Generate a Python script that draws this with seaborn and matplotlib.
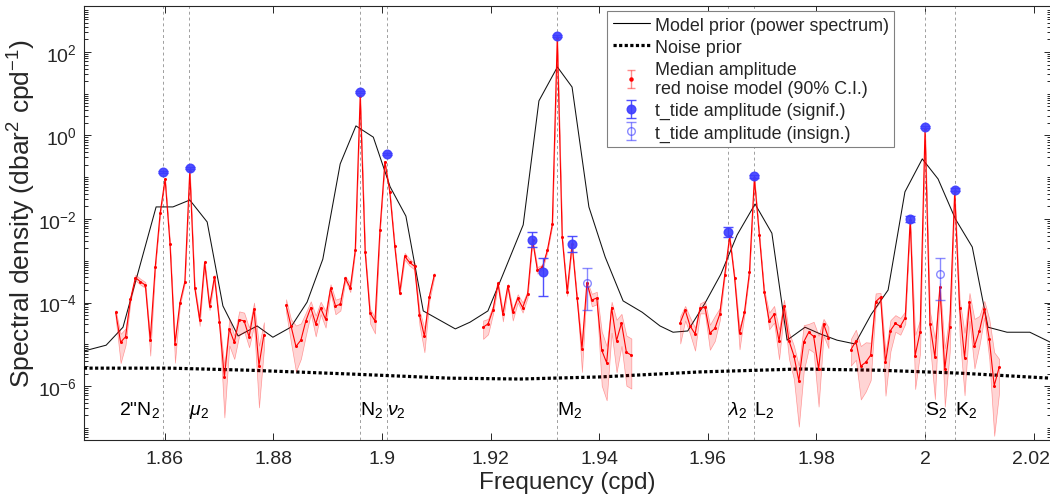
import numpy as np
import pandas as pd
import matplotlib
matplotlib.use("Agg")
import matplotlib.pyplot as plt
import matplotlib.ticker as mticker
import matplotlib.transforms as mtransforms
from matplotlib.lines import Line2D
import seaborn as sns

# ------------------------------------------------------------------ data
# Model prior (power spectrum): frequency (cpd) and log10 spectral density
model_freq = [1.8451, 1.8492, 1.8523, 1.8584, 1.8615, 1.8646, 1.8678, 1.8707, 1.8735,
              1.8770, 1.8799, 1.8832, 1.8862, 1.8891, 1.8923, 1.8952, 1.8984, 1.9015,
              1.9044, 1.9076, 1.9135, 1.9162, 1.9195, 1.9223, 1.9260, 1.9289, 1.9323,
              1.9350, 1.9381, 1.9411, 1.9444, 1.9479, 1.9512, 1.9536, 1.9563, 1.9595,
              1.9624, 1.9654, 1.9687, 1.9718, 1.9746, 1.9779, 1.9807, 1.9838, 1.9871,
              1.9901, 1.9932, 1.9963, 1.9995, 2.0024, 2.0056, 2.0087, 2.0116, 2.0151,
              2.0193, 2.0231]
model_log10 = [-5.16, -5.02, -4.59, -1.71, -1.71, -1.545, -2.07, -4.08, -4.80,
               -4.56, -4.83, -4.59, -3.99, -2.96, -0.68, 0.23, -0.04, -1.23,
               -1.93, -4.20, -4.63, -4.47, -4.20, -3.32, -2.14, 0.83, 1.64,
               1.16, -1.71, -2.91, -3.96, -4.23, -4.56, -4.71, -4.68, -4.01,
               -3.32, -2.38, -1.64, -2.34, -4.90, -4.59, -4.75, -4.90, -4.99,
               -4.28, -3.70, -1.35, -0.56, -1.04, -2.00, -2.67, -4.59, -4.71,
               -4.71, -4.95]

# Noise prior
noise_freq = [1.8451, 1.8610, 1.8757, 1.8941, 1.9125, 1.9254, 1.9402, 1.9586,
              1.9770, 1.9917, 2.0065, 2.0231]
noise_log10 = [-5.57, -5.57, -5.62, -5.71, -5.81, -5.83, -5.78, -5.66,
               -5.59, -5.62, -5.69, -5.81]

# Median amplitude of red-noise model (five frequency bands), log10 values,
# with 90% C.I. given as decades below / above the median
s1_freq = [1.85095, 1.85186, 1.85277, 1.85368, 1.85459, 1.85550, 1.85641, 1.85732,
           1.85823, 1.85914, 1.86005, 1.86096, 1.86187, 1.86278, 1.86369, 1.86460,
           1.86551, 1.86642, 1.86733, 1.86824, 1.86915, 1.87006, 1.87097, 1.87188,
           1.87279, 1.87370, 1.87461, 1.87552, 1.87643, 1.87734, 1.87825]
s1_med = [-4.23, -4.95, -4.82, -3.92, -3.40, -3.50, -3.58, -4.89, -3.16, -1.86, -1.04,
          -2.60, -4.99, -4.01, -3.50, -0.84, -3.64, -4.41, -3.04, -4.08, -3.38, -4.47,
          -5.79, -4.63, -4.95, -4.41, -4.44, -4.82, -4.16, -5.51, -4.77]
s1_up = [0.05, 0.20, 0.20, 0.05, 0.07, 0.07, 0.07, 0.05, 0.03, 0.03, 0.03, 0.03, 0.10,
         0.04, 0.04, 0.05, 0.05, 0.08, 0.05, 0.06, 0.05, 0.05, 0.28, 0.24, 0.16, 0.20,
         0.20, 0.22, 0.16, 0.48, 0.30]
s1_dn = [0.15, 0.50, 0.20, 0.05, 0.07, 0.07, 0.07, 0.38, 0.03, 0.03, 0.03, 0.03, 0.45,
         0.06, 0.04, 0.05, 0.05, 0.15, 0.05, 0.10, 0.05, 0.10, 0.96, 0.40, 0.40, 0.38,
         0.25, 0.25, 0.40, 1.00, 0.35]

s2_freq = [1.88233, 1.88324, 1.88415, 1.88506, 1.88597, 1.88688, 1.88779, 1.88870,
           1.88961, 1.89052, 1.89143, 1.89234, 1.89325, 1.89416, 1.89507, 1.89598,
           1.89689, 1.89780, 1.89871, 1.89962, 1.90053, 1.90144, 1.90235, 1.90326,
           1.90417, 1.90508, 1.90599, 1.90690, 1.90781, 1.90872, 1.90963]
s2_med = [-4.06, -4.56, -5.05, -4.90, -4.44, -4.12, -4.51, -4.13, -4.40, -3.66, -4.08,
          -4.04, -3.42, -3.65, -2.75, 0.95, -2.78, -4.25, -4.44, -2.26, -0.63, -1.36,
          -2.65, -3.76, -2.89, -3.04, -3.13, -4.29, -4.81, -3.86, -3.34]
s2_up = [0.14, 0.16, 0.50, 0.40, 0.20, 0.15, 0.20, 0.15, 0.20, 0.10, 0.15, 0.15, 0.05,
         0.10, 0.03, 0.02, 0.03, 0.10, 0.08, 0.03, 0.02, 0.03, 0.05, 0.05, 0.08, 0.08,
         0.08, 0.10, 0.20, 0.10, 0.05]
s2_dn = [0.17, 0.40, 0.60, 0.45, 0.35, 0.15, 0.30, 0.15, 0.20, 0.10, 0.20, 0.15, 0.05,
         0.10, 0.03, 0.02, 0.03, 0.25, 0.30, 0.03, 0.02, 0.03, 0.05, 0.05, 0.08, 0.08,
         0.08, 0.25, 0.38, 0.10, 0.05]

s3_freq = [1.91862, 1.91953, 1.92044, 1.92135, 1.92226, 1.92317, 1.92408, 1.92499,
           1.92590, 1.92681, 1.92772, 1.92863, 1.92954, 1.93045, 1.93136, 1.93227,
           1.93318, 1.93409, 1.93500, 1.93591, 1.93682, 1.93773, 1.93864, 1.93955,
           1.94046, 1.94137, 1.94228, 1.94319, 1.94410, 1.94501, 1.94592]
s3_med = [-4.59, -4.51, -4.17, -3.54, -4.28, -3.60, -4.23, -3.90, -4.12, -3.80, -2.50,
          -3.23, -3.15, -2.75, -2.13, 2.33, -2.44, -3.74, -2.60, -3.88, -5.11, -3.53,
          -3.94, -3.89, -5.14, -5.44, -4.12, -4.91, -4.49, -5.19, -5.26]
s3_up = [0.16, 0.12, 0.10, 0.05, 0.08, 0.05, 0.08, 0.10, 0.12, 0.08, 0.03, 0.08, 0.06,
         0.04, 0.03, 0.02, 0.03, 0.05, 0.03, 0.05, 0.10, 0.05, 0.15, 0.15, 0.45, 0.40,
         0.14, 0.50, 0.22, 0.40, 0.40]
s3_dn = [0.28, 0.25, 0.10, 0.05, 0.17, 0.05, 0.20, 0.10, 0.12, 0.08, 0.03, 0.08, 0.06,
         0.04, 0.03, 0.02, 0.03, 0.10, 0.03, 0.05, 0.55, 0.05, 0.15, 0.15, 0.85, 0.90,
         0.60, 0.76, 0.55, 0.80, 0.80]

s4_freq = [1.95492, 1.95583, 1.95674, 1.95765, 1.95856, 1.95947, 1.96038, 1.96129,
           1.96220, 1.96311, 1.96402, 1.96493, 1.96584, 1.96675, 1.96766, 1.96857,
           1.96948, 1.97039, 1.97130, 1.97221, 1.97312, 1.97403, 1.97494, 1.97585,
           1.97676, 1.97767, 1.97858, 1.97949, 1.98040, 1.98131, 1.98222]
s4_med = [-4.48, -4.18, -4.56, -4.75, -4.14, -4.11, -4.73, -4.62, -4.28, -3.34, -2.41,
          -3.41, -4.74, -4.23, -3.28, -1.02, -2.38, -3.74, -4.44, -4.28, -4.92, -4.08,
          -4.91, -5.27, -5.87, -4.94, -4.71, -4.81, -5.59, -4.51, -4.84]
s4_up = [0.16, 0.10, 0.20, 0.15, 0.12, 0.15, 0.20, 0.30, 0.15, 0.05, 0.03, 0.05, 0.15,
         0.05, 0.05, 0.02, 0.03, 0.05, 0.20, 0.20, 0.28, 0.15, 0.20, 0.24, 0.36, 0.40,
         0.20, 0.35, 0.80, 0.12, 0.25]
s4_dn = [0.50, 0.25, 0.20, 0.40, 0.12, 0.15, 0.40, 0.30, 0.15, 0.05, 0.03, 0.05, 0.38,
         0.05, 0.05, 0.02, 0.03, 0.05, 0.20, 0.20, 0.44, 0.15, 0.44, 0.56, 1.10, 0.70,
         0.40, 0.38, 0.90, 0.28, 0.25]

s5_freq = [1.98635, 1.98726, 1.98817, 1.98908, 1.98999, 1.99090, 1.99181, 1.99272,
           1.99363, 1.99454, 1.99545, 1.99636, 1.99727, 1.99818, 1.99909, 2.00000,
           2.00091, 2.00182, 2.00273, 2.00364, 2.00455, 2.00546, 2.00637, 2.00728,
           2.00819, 2.00910, 2.01001, 2.01092, 2.01183, 2.01274, 2.01365]
s5_med = [-5.13, -4.92, -5.52, -5.43, -5.26, -3.98, -3.87, -5.43, -4.67, -4.50, -4.57,
          -4.36, -2.02, -5.27, -4.71, 0.16, -4.52, -5.31, -3.63, -5.59, -4.59, -1.34,
          -4.12, -5.32, -3.99, -5.05, -4.68, -4.16, -4.87, -5.99, -5.55]
s5_up = [0.26, 0.27, 0.48, 0.48, 0.30, 0.20, 0.10, 0.25, 0.25, 0.20, 0.20, 0.15, 0.03,
         0.50, 0.30, 0.02, 0.30, 0.45, 0.10, 0.50, 0.35, 0.03, 0.20, 0.60, 0.22, 0.66,
         0.36, 0.20, 0.48, 0.80, 0.20]
s5_dn = [0.38, 0.45, 0.80, 0.70, 0.60, 0.15, 0.10, 0.80, 0.50, 0.20, 0.20, 0.15, 0.03,
         0.80, 0.50, 0.02, 0.50, 1.00, 0.10, 0.90, 0.60, 0.03, 0.67, 0.90, 0.45, 0.53,
         0.36, 0.20, 0.48, 1.20, 0.60]

# t_tide amplitudes (log10) with error bars (decades)
sig_freq = [1.85969, 1.86455, 1.89598, 1.90084, 1.92758, 1.92961, 1.93227, 1.93506,
            1.96371, 1.96857, 1.99726, 2.00000, 2.00548]
sig_log10 = [-0.87, -0.78, 1.04, -0.44, -2.50, -3.28, 2.38, -2.60, -2.32, -0.98,
             -2.00, 0.20, -1.30]
sig_up = [0.03, 0.03, 0.02, 0.03, 0.18, 0.34, 0.02, 0.20, 0.12, 0.04, 0.07, 0.02, 0.04]
sig_dn = [0.03, 0.03, 0.02, 0.03, 0.18, 0.56, 0.02, 0.20, 0.12, 0.04, 0.07, 0.02, 0.04]

ins_freq = [1.93771, 2.00274]
ins_log10 = [-3.53, -3.32]
ins_up = [0.36, 0.38]
ins_dn = [0.65, 0.62]

# tidal constituents
const_names = ['2"N$_2$', r'$\mu_2$', 'N$_2$', r'$\nu_2$', 'M$_2$',
               r'$\lambda_2$', 'L$_2$', 'S$_2$', 'K$_2$']
const_freq = [1.859690, 1.864547, 1.895982, 1.900839, 1.932274,
              1.963708, 1.968565, 2.000000, 2.005479]

x_ticks = [1.86, 1.88, 1.90, 1.92, 1.94, 1.96, 1.98, 2.00, 2.02]
y_ticks = [1e-6, 1e-4, 1e-2, 1e0, 1e2]

# ------------------------------------------------------------------ style
sns.set_theme(style="ticks")
plt.rcParams["font.family"] = ["Liberation Sans", "DejaVu Sans"]
plt.rcParams["mathtext.fontset"] = "custom"
plt.rcParams["mathtext.rm"] = "Liberation Sans"
plt.rcParams["mathtext.it"] = "Liberation Sans:italic"
plt.rcParams["mathtext.bf"] = "Liberation Sans:bold"
plt.rcParams["mathtext.sf"] = "Liberation Sans"
plt.rcParams["axes.unicode_minus"] = True

fig = plt.figure(figsize=(10.5, 5.02), dpi=100)
ax = fig.add_axes([84 / 1050, 61 / 502, 967 / 1050, 434 / 502])
ax.set_facecolor("white")

# constituent markers
for f in const_freq:
    ax.axvline(f, color="0.62", lw=0.7, ls=(0, (3, 3)), zorder=1)

# priors
sns.lineplot(x=model_freq, y=10 ** np.array(model_log10), color="#111111", lw=0.75,
             estimator=None, sort=False, ax=ax, zorder=3)
sns.lineplot(x=noise_freq, y=10 ** np.array(noise_log10), color="black", lw=2.3,
             linestyle=(0, (1.0, 0.75)), estimator=None, sort=False, ax=ax, zorder=3)

# red-noise median + 90% CI band
sections = [(s1_freq, s1_med, s1_up, s1_dn), (s2_freq, s2_med, s2_up, s2_dn),
            (s3_freq, s3_med, s3_up, s3_dn), (s4_freq, s4_med, s4_up, s4_dn),
            (s5_freq, s5_med, s5_up, s5_dn)]
frames = []
for k, (fq, md, up, dn) in enumerate(sections):
    md = np.array(md)
    ax.fill_between(fq, 10 ** (md - np.array(dn)), 10 ** (md + np.array(up)),
                    facecolor=(1, 0, 0, 0.17), edgecolor=(1, 0, 0, 0.35), lw=0.5, zorder=4)
    frames.append(pd.DataFrame({"freq": fq, "median": 10 ** md, "section": k}))
red_df = pd.concat(frames, ignore_index=True)
sns.lineplot(data=red_df, x="freq", y="median", units="section", estimator=None,
             sort=False, color="red", lw=0.8, marker="o", markersize=2.2,
             markeredgewidth=0, ax=ax, zorder=5, legend=False)

# t_tide amplitudes
blue = "#3d3dff"
sv = 10 ** np.array(sig_log10)
ax.errorbar(sig_freq, sv,
            yerr=[sv - 10 ** (np.array(sig_log10) - np.array(sig_dn)),
                  10 ** (np.array(sig_log10) + np.array(sig_up)) - sv],
            fmt="o", color=blue, ms=6.2, mec=blue, ecolor=blue, elinewidth=1.0,
            capsize=3.5, capthick=1.0, alpha=0.9, zorder=6)
iv = 10 ** np.array(ins_log10)
ax.errorbar(ins_freq, iv,
            yerr=[iv - 10 ** (np.array(ins_log10) - np.array(ins_dn)),
                  10 ** (np.array(ins_log10) + np.array(ins_up)) - iv],
            fmt="o", mfc="none", color=blue, ms=5.5, mec=blue, ecolor=blue,
            elinewidth=1.0, capsize=3.5, capthick=1.0, alpha=0.6, zorder=6)

# axes
ax.set_yscale("log")
ax.set_xlim(1.84512, 2.02320)
ax.set_ylim(10 ** -7.29, 10 ** 3.10)
ax.xaxis.set_major_locator(mticker.FixedLocator(x_ticks))
ax.xaxis.set_major_formatter(mticker.FuncFormatter(lambda v, p: f"{v:g}"))
ax.yaxis.set_major_locator(mticker.FixedLocator(y_ticks))
ax.yaxis.set_major_formatter(mticker.LogFormatterSciNotation())
ax.yaxis.set_minor_locator(mticker.LogLocator(base=10, subs=np.arange(1, 10), numticks=100))
ax.yaxis.set_minor_formatter(mticker.NullFormatter())
ax.tick_params(axis="both", which="both", direction="in", top=True, right=True,
               color="#262626", width=0.7)
ax.tick_params(axis="both", which="major", length=5, labelsize=14, labelcolor="#262626")
ax.tick_params(axis="x", which="major", pad=7)
ax.tick_params(axis="y", which="major", pad=5)
ax.tick_params(axis="y", which="minor", length=3)
for s in ax.spines.values():
    s.set_color("#262626")
    s.set_linewidth(0.8)
ax.set_xlabel("Frequency (cpd)", fontsize=17.5, color="#262626", labelpad=3)
ax.set_ylabel(r"Spectral density (dbar$^2$ cpd$^{-1}$)", fontsize=19,
              color="#262626")
ax.yaxis.set_label_coords((38 - 84) / 966, (441 - 214) / 434)

# nudge the last x tick label so it stays inside the figure
last_tick = ax.xaxis.get_major_ticks()[-1]
last_tick.label1.set_transform(last_tick.label1.get_transform() +
                               mtransforms.ScaledTranslation(-3 / 100, 0, fig.dpi_scale_trans))

# constituent labels
trans = ax.get_xaxis_transform()
for name, f in zip(const_names, const_freq):
    if name.startswith('2"'):
        ax.text(f - 0.0006, 0.060, name, transform=trans, ha="right", va="baseline",
                fontsize=14, color="black")
    else:
        ax.text(f, 0.060, name, transform=trans, ha="left", va="baseline",
                fontsize=14, color="black")

# legend
h_model = Line2D([], [], color="black", lw=0.8)
h_noise = Line2D([], [], color="black", lw=2.3, ls=(0, (1.0, 0.75)))
h_red = ax.errorbar([np.nan], [np.nan], yerr=[[np.nan], [np.nan]], fmt="o", color="red",
                    ms=2.2, ecolor=(1, 0, 0, 0.45), elinewidth=1, capsize=3)
h_sig = ax.errorbar([np.nan], [np.nan], yerr=[[np.nan], [np.nan]], fmt="o", color=blue,
                    ms=6.2, ecolor=blue, elinewidth=1, capsize=3.5, alpha=0.9)
h_ins = ax.errorbar([np.nan], [np.nan], yerr=[[np.nan], [np.nan]], fmt="o", mfc="none",
                    color=blue, ms=5.5, ecolor=blue, elinewidth=1, capsize=3.5, alpha=0.6)
leg = ax.legend([h_model, h_noise, h_red, h_sig, h_ins],
                ["Model prior (power spectrum)", "Noise prior",
                 "Median amplitude\nred noise model (90% C.I.)",
                 "t_tide amplitude (signif.)", "t_tide amplitude (insign.)"],
                loc="upper left", bbox_to_anchor=(0.541, 0.988), fontsize=12.9,
                frameon=True, fancybox=False, framealpha=1, edgecolor="#808080",
                handlelength=2.1, handletextpad=0.25, labelspacing=0.28,
                borderpad=0.3, borderaxespad=0)
leg.get_frame().set_linewidth(0.8)
leg.set_zorder(10)

fig.savefig("out.png", dpi=100)
